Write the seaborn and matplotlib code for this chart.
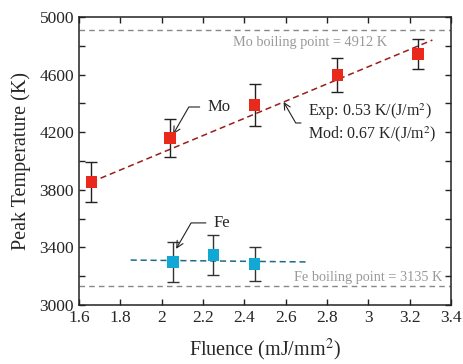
import numpy as np
import pandas as pd
import seaborn as sns
import matplotlib.pyplot as plt
from matplotlib.ticker import MultipleLocator, FixedLocator, FuncFormatter

# --- datos ---
mo_fluence = [1.66, 2.04, 2.45, 2.85, 3.24]
mo_temp = [3854, 4160, 4389, 4597, 4743]
mo_err = [140, 135, 145, 118, 104]

fe_fluence = [2.055, 2.25, 2.45]
fe_temp = [3299, 3347, 3285]
fe_err = [138, 139, 118]

mo_fit_x = [1.66, 3.31]
mo_fit_y = [3854, 4840]
fe_fit_x = [1.85, 2.70]
fe_fit_y = [3312, 3299]

mo_boil = 4912
fe_boil = 3135

y_ticks = [3000, 3400, 3800, 4200, 4600, 5000]

sns.set_style("ticks")
plt.rcParams['font.family'] = ['Liberation Serif', 'DejaVu Serif']
plt.rcParams['mathtext.fontset'] = 'stix'

fig = plt.figure(figsize=(4.63, 3.64), dpi=100)
ax = fig.add_axes([79 / 463, 1 - 305 / 364, 372 / 463, 288 / 364])

# lineas de ebullicion
ax.axhline(mo_boil, color='#888888', ls=(0, (4, 3)), lw=1)
ax.axhline(fe_boil, color='#888888', ls=(0, (4, 3)), lw=1)
ax.text(3.09, 4826, 'Mo boiling point = 4912 K', color='#999999', fontsize=10.3,
        ha='right', va='center')
ax.text(3.36, 3194, 'Fe boiling point = 3135 K', color='#999999', fontsize=10.3,
        ha='right', va='center')

# ajustes
fits = pd.DataFrame({'x': mo_fit_x + fe_fit_x, 'y': mo_fit_y + fe_fit_y,
                     'serie': ['Mo'] * 2 + ['Fe'] * 2})
sns.lineplot(data=fits, x='x', y='y', hue='serie',
             palette={'Mo': '#9b1c1c', 'Fe': '#1b6a86'}, ax=ax, legend=False,
             lw=1.1, dashes=False)
for l in ax.lines[2:]:
    l.set_linestyle((0, (4, 2.5)))

# barras de error
ax.errorbar(mo_fluence, mo_temp, yerr=mo_err, fmt='none', ecolor='#222222',
            elinewidth=1, capsize=4, capthick=1, zorder=3)
ax.errorbar(fe_fluence, fe_temp, yerr=fe_err, fmt='none', ecolor='#333333',
            elinewidth=1, capsize=4, capthick=1, zorder=3)

# puntos
pts = pd.DataFrame({'x': mo_fluence + fe_fluence, 'y': mo_temp + fe_temp,
                    'serie': ['Mo'] * len(mo_fluence) + ['Fe'] * len(fe_fluence)})
sns.scatterplot(data=pts, x='x', y='y', hue='serie', marker='s', s=70,
                palette={'Mo': '#e8291c', 'Fe': '#12a8d5'}, edgecolor='none',
                legend=False, ax=ax, zorder=4)

# anotaciones
arrow = dict(arrowstyle='->', color='#222222', lw=0.8, shrinkA=3, shrinkB=0,
             connectionstyle='angle,angleA=0,angleB=60,rad=0')
ax.annotate('Mo', xy=(2.055, 4185), xytext=(2.22, 4375), fontsize=12,
            va='center', arrowprops=arrow)
ax.annotate('Fe', xy=(2.07, 3390), xytext=(2.25, 3570), fontsize=12,
            va='center', arrowprops=arrow)
arrow2 = dict(arrowstyle='->', color='#222222', lw=0.8, shrinkA=3, shrinkB=0,
              connectionstyle='angle,angleA=0,angleB=-60,rad=0')
ax.annotate('Exp: 0.53 K/(J/m$^2$)\nMod: 0.67 K/(J/m$^2$)', xy=(2.59, 4410),
            xytext=(2.71, 4264), fontsize=11.5, va='center', linespacing=1.15,
            arrowprops=arrow2)

ax.set_xlim(1.6, 3.4)
ax.set_ylim(3000, 5000)
ax.xaxis.set_major_locator(MultipleLocator(0.2))
ax.xaxis.set_major_formatter(FuncFormatter(lambda v, p: f'{v:g}'))
ax.yaxis.set_major_locator(FixedLocator(y_ticks))
ax.yaxis.set_minor_locator(MultipleLocator(200))
ax.tick_params(which='both', direction='in', top=True, right=True,
               length=4, width=1, labelsize=12.5, color='#222222')
for s in ax.spines.values():
    s.set_linewidth(1.1)
    s.set_color('#222222')

ax.set_xlabel('Fluence (mJ/mm$^2$)', fontsize=14.5, labelpad=8)
ax.set_ylabel('Peak Temperature (K)', fontsize=14.5, labelpad=6)

fig.savefig('out.png', dpi=100)
